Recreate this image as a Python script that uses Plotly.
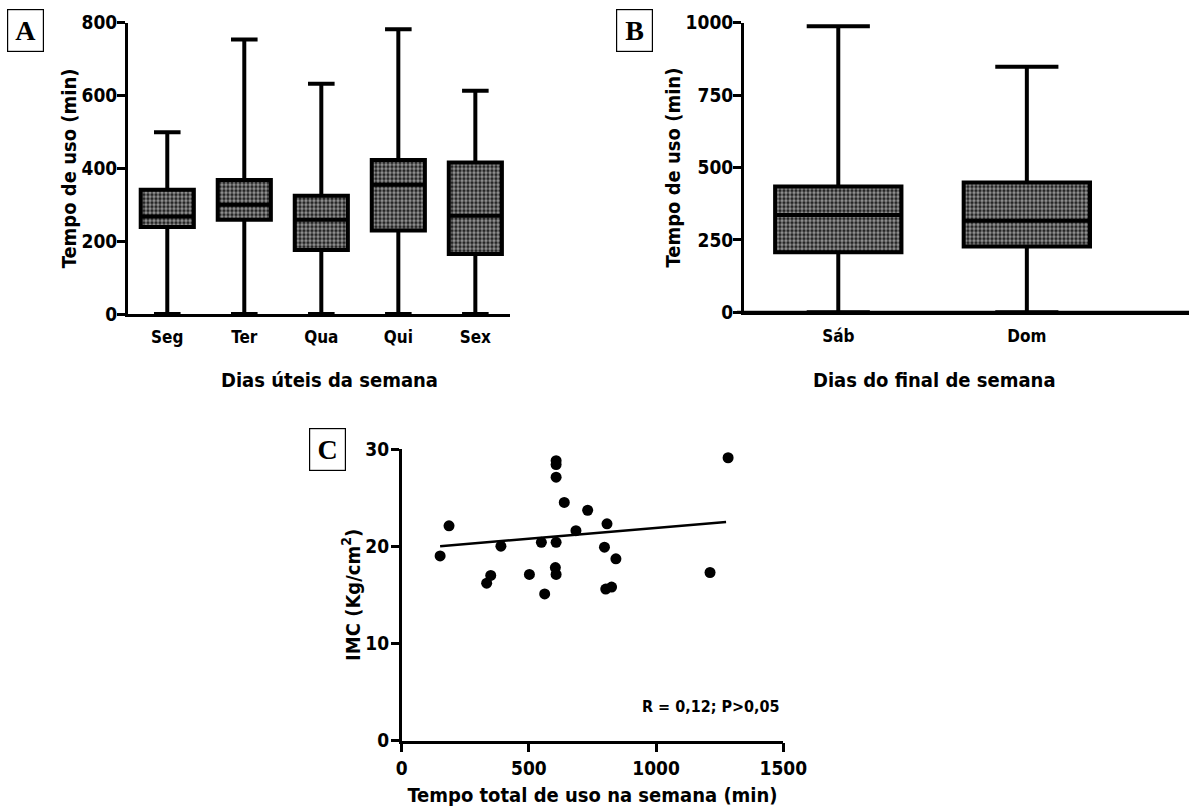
import plotly.graph_objects as go

# ---------------- data ----------------
weekdays = ["Seg", "Ter", "Qua", "Qui", "Sex"]
wd_min = [0, 0, 0, 0, 0]
wd_q1 = [239, 259, 176, 229, 165]
wd_median = [268, 300, 259, 355, 270]
wd_q3 = [341, 368, 325, 423, 416]
wd_max = [499, 754, 632, 782, 613]

weekend = ["Sáb", "Dom"]
we_min = [0, 0]
we_q1 = [207, 227]
we_median = [336, 316]
we_q3 = [434, 448]
we_max = [988, 848]

total_time = [151, 186, 334, 350, 390, 502, 549, 562, 607, 607, 607, 607,
              604, 607, 639, 685, 731, 797, 807, 802, 825, 842, 1212, 1283]
imc = [19.0, 22.1, 16.2, 17.0, 20.0, 17.1, 20.4, 15.1, 28.8, 28.4, 27.1, 20.4,
       17.8, 17.1, 24.5, 21.6, 23.7, 19.9, 22.3, 15.6, 15.8, 18.7, 17.3, 29.1]

# regression line as drawn in the figure
fit_intercept = 19.66
fit_slope = 0.00222
fit_x = [min(total_time), 1275]

W, H = 1189, 811
FONT = "Liberation Sans Narrow, DejaVu Sans Condensed, Arial Narrow, Liberation Sans, Arial, sans-serif"


def px_x(p):
    return p / W


def px_y(p):
    return 1 - p / H


fig = go.Figure()

pattern = dict(shape=".", size=4, solidity=0.6, fgcolor="white", bgcolor="#1a1a1a")

# ---- Panel A ----
fig.add_trace(go.Bar(x=weekdays, y=[b - a for a, b in zip(wd_q1, wd_q3)], base=wd_q1,
                     width=0.69, marker=dict(color="#1a1a1a", pattern=pattern, line=dict(width=0)),
                     xaxis="x", yaxis="y", showlegend=False, hoverinfo="skip"))
fig.add_trace(go.Box(x=weekdays, q1=wd_q1, median=wd_median, q3=wd_q3,
                     lowerfence=wd_min, upperfence=wd_max, width=0.69, whiskerwidth=0.5,
                     line=dict(color="black", width=4), fillcolor="rgba(0,0,0,0)",
                     boxpoints=False, xaxis="x", yaxis="y", showlegend=False))

# ---- Panel B ----
fig.add_trace(go.Bar(x=weekend, y=[b - a for a, b in zip(we_q1, we_q3)], base=we_q1,
                     width=0.67, marker=dict(color="#1a1a1a", pattern=pattern, line=dict(width=0)),
                     xaxis="x2", yaxis="y2", showlegend=False, hoverinfo="skip"))
fig.add_trace(go.Box(x=weekend, q1=we_q1, median=we_median, q3=we_q3,
                     lowerfence=we_min, upperfence=we_max, width=0.67, whiskerwidth=0.5,
                     line=dict(color="black", width=4), fillcolor="rgba(0,0,0,0)",
                     boxpoints=False, xaxis="x2", yaxis="y2", showlegend=False))

# ---- Panel C ----
fig.add_trace(go.Scatter(x=fit_x, y=[fit_intercept + fit_slope * v for v in fit_x], mode="lines",
                         line=dict(color="black", width=2.5),
                         xaxis="x3", yaxis="y3", showlegend=False, hoverinfo="skip"))
fig.add_trace(go.Scatter(x=total_time, y=imc, mode="markers",
                         marker=dict(color="black", size=11),
                         xaxis="x3", yaxis="y3", showlegend=False))

tickfont = dict(family=FONT, size=19, color="black", weight="bold")
titlefont = dict(family=FONT, size=20, color="black", weight="bold")

common_y = dict(showline=True, linecolor="black", linewidth=3, ticks="outside", ticklen=8,
                tickwidth=3, tickcolor="black", showgrid=False, zeroline=False,
                tickfont=tickfont, automargin=False, ticklabelstandoff=-4)
common_xcat = dict(showline=True, linecolor="black", linewidth=3, ticks="", showgrid=False,
                   zeroline=False, tickfont=dict(family=FONT, size=17, color="black", weight="bold"),
                   automargin=False, type="category", ticklabelstandoff=6)

fig.update_layout(
    width=W, height=H, margin=dict(l=0, r=0, t=0, b=0, autoexpand=False),
    paper_bgcolor="white", plot_bgcolor="white",
    barmode="overlay", boxmode="overlay",
    xaxis=dict(domain=[px_x(128), px_x(510)], range=[-0.51, 4.45], anchor="y", **common_xcat),
    yaxis=dict(domain=[px_y(314), px_y(22.7)], range=[0, 800], dtick=200, anchor="x",
               title=dict(text="Tempo de uso (min)", font=titlefont, standoff=0), **common_y),
    xaxis2=dict(domain=[px_x(744), 1.0], range=[-0.5, 1.86], anchor="y2", **common_xcat),
    yaxis2=dict(domain=[px_y(312.3), px_y(22.7)], range=[0, 1000], dtick=250, anchor="x2",
                title=dict(text="Tempo de uso (min)", font=titlefont, standoff=0), **common_y),
    xaxis3=dict(domain=[px_x(401.7), px_x(783.3)], range=[0, 1500], dtick=500, anchor="y3",
                showline=True, linecolor="black", linewidth=2.5, ticks="outside", ticklen=9,
                tickwidth=2.5, tickcolor="black", showgrid=False, zeroline=False,
                tickfont=tickfont, automargin=False,
                title=dict(text="Tempo total de uso na semana (min)", font=titlefont, standoff=10)),
    yaxis3=dict(domain=[px_y(740.7), px_y(449)], range=[0, 30], dtick=10, anchor="x3",
                showline=True, linecolor="black", linewidth=2.5, ticks="outside", ticklen=8,
                tickwidth=2.5, tickcolor="black", showgrid=False, zeroline=False,
                tickfont=tickfont, automargin=False, ticklabelstandoff=-2,
                title=dict(text="IMC (Kg/cm<sup>2</sup>)", font=titlefont, standoff=0)),
)

# make sure panel B's baseline runs to the right edge of the page
fig.add_shape(type="line", xref="paper", yref="y2", x0=px_x(737), x1=1.0, y0=0, y1=0,
              line=dict(color="black", width=3), layer="above")

# x-axis titles of panels A and B (offset from axis centre as in the original)
fig.add_annotation(text="Dias úteis da semana", xref="paper", yref="paper",
                   x=px_x(329), y=px_y(380), xanchor="center", yanchor="middle",
                   showarrow=False, font=titlefont)
fig.add_annotation(text="Dias do final de semana", xref="paper", yref="paper",
                   x=px_x(934), y=px_y(380), xanchor="center", yanchor="middle",
                   showarrow=False, font=titlefont)

# panel letters
for letter, x0, y0 in [("A", 7, 9), ("B", 616, 9), ("C", 309, 428)]:
    fig.add_annotation(text=letter, xref="paper", yref="paper", x=px_x(x0), y=px_y(y0),
                       xanchor="left", yanchor="top", showarrow=False,
                       width=35, height=41, align="center", valign="middle",
                       bordercolor="black", borderwidth=1.2, borderpad=0, bgcolor="white",
                       font=dict(family="Liberation Serif, Times New Roman, serif", size=28,
                                 color="black", weight="bold"))

fig.add_annotation(text="R = 0,12; P>0,05", xref="x3", yref="y3", x=1494, y=3.5,
                   xanchor="right", yanchor="middle", showarrow=False,
                   font=dict(family=FONT, size=16, color="black", weight="bold"))

fig.write_html("out.html", config={"displayModeBar": False},
               post_script="document.body.style.margin='0';")
